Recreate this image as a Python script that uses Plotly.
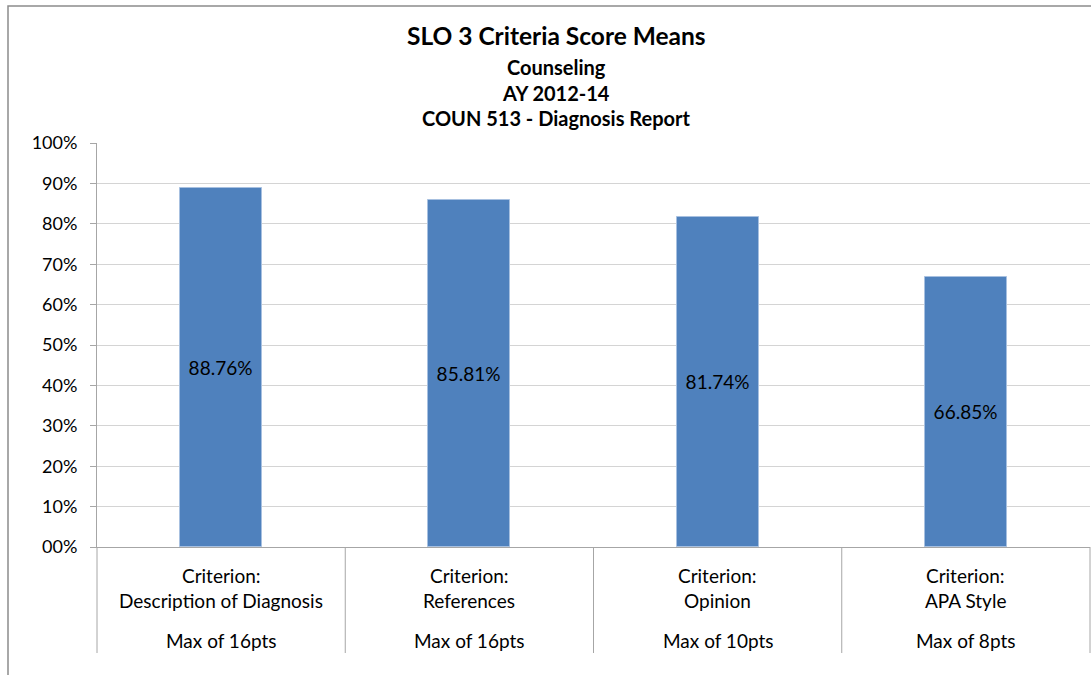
import plotly.graph_objects as go

# ---- data ----
criteria = ["Description of Diagnosis", "References", "Opinion", "APA Style"]
max_points = ["Max of 16pts", "Max of 16pts", "Max of 10pts", "Max of 8pts"]
score_means = [0.8876, 0.8581, 0.8174, 0.6685]
y_tick_vals = [0, 0.1, 0.2, 0.3, 0.4, 0.5, 0.6, 0.7, 0.8, 0.9, 1.0]
y_tick_text = ["00%", "10%", "20%", "30%", "40%", "50%", "60%", "70%", "80%", "90%", "100%"]
title_lines = ["SLO 3 Criteria Score Means", "Counseling", "AY 2012-14", "COUN 513 - Diagnosis Report"]

W, H = 1091, 675
L, R, T, B = 97, 1, 143, 128
plot_h = H - T - B
plot_w = W - L - R

def py(pix):
    # pixel row -> paper y
    return (H - B - pix) / plot_h

def px(pix):
    return (pix - L) / plot_w

FONT = "Lato, Carlito, Calibri, sans-serif"
xs = list(range(len(criteria)))

fig = go.Figure()
fig.add_trace(go.Bar(
    x=xs, y=score_means, width=0.33,
    marker=dict(color="#4F81BD", line=dict(color="#A7C0E0", width=1)),
    texttemplate="%{y:.2%}", textposition="inside", insidetextanchor="middle",
    textfont=dict(family=FONT, size=19, color="#000000"),
    hoverinfo="skip", showlegend=False,
))

annotations = []
# title lines
title_y = [35, 67, 93, 118]
title_sz = [24.5, 20, 20, 20]
for txt, yy, sz in zip(title_lines, title_y, title_sz):
    annotations.append(dict(text="<b>%s</b>" % txt, xref="paper", yref="paper",
                            x=px(556), y=py(yy), xanchor="center", yanchor="middle",
                            showarrow=False, font=dict(family=FONT, size=sz, color="#000000")))
# category labels
for i, (c, m) in enumerate(zip(criteria, max_points)):
    annotations.append(dict(text="Criterion:", xref="x", yref="paper", x=i, y=py(575),
                            xanchor="center", yanchor="middle", showarrow=False,
                            font=dict(family=FONT, size=19, color="#000000")))
    annotations.append(dict(text=c, xref="x", yref="paper", x=i, y=py(600),
                            xanchor="center", yanchor="middle", showarrow=False,
                            font=dict(family=FONT, size=19, color="#000000")))
    annotations.append(dict(text=m, xref="x", yref="paper", x=i, y=py(640),
                            xanchor="center", yanchor="middle", showarrow=False,
                            font=dict(family=FONT, size=19, color="#000000")))

shapes = []
# category separators
n = len(criteria)
for k in range(n + 1):
    shapes.append(dict(type="line", xref="x domain", yref="paper",
                       x0=k / n, x1=k / n, y0=0, y1=py(653),
                       line=dict(color="#A6A6A6", width=1)))
# outer chart border
shapes.append(dict(type="rect", xref="paper", yref="paper",
                   x0=px(8), x1=px(W + 20), y0=py(H + 20), y1=py(6),
                   line=dict(color="#8C8C8C", width=1.5), fillcolor="rgba(0,0,0,0)", layer="below"))

fig.update_layout(
    width=W, height=H,
    margin=dict(l=L, r=R, t=T, b=B, pad=0),
    paper_bgcolor="white", plot_bgcolor="white",
    font=dict(family=FONT, color="#000000"),
    annotations=annotations, shapes=shapes,
    bargap=0,
    xaxis=dict(range=[-0.5, n - 0.5], showticklabels=False, showgrid=False,
               showline=True, linecolor="#A6A6A6", linewidth=1, ticks="", zeroline=False,
               fixedrange=True),
    yaxis=dict(range=[0, 1], tickvals=y_tick_vals, ticktext=y_tick_text,
               showgrid=True, gridcolor="#D4D4D4", gridwidth=1,
               showline=True, linecolor="#A6A6A6", linewidth=1,
               ticks="outside", ticklen=6, tickcolor="#A6A6A6",
               ticklabelstandoff=9,
               tickfont=dict(family=FONT, size=18, color="#000000"),
               zeroline=False, fixedrange=True),
)

fig.write_html("out.html", include_plotlyjs=True, config={"displayModeBar": False},
               post_script="document.body.style.margin='0';document.body.style.overflow='hidden';")
